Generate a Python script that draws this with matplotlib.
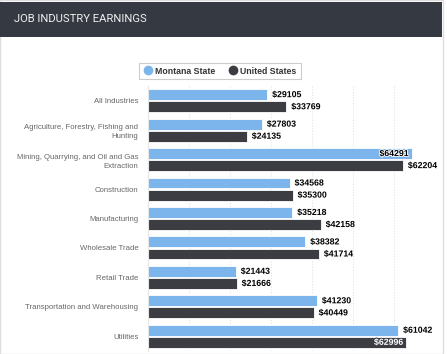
import matplotlib.pyplot as plt
import matplotlib.patheffects as pe
from matplotlib.lines import Line2D
from matplotlib.patches import Rectangle
import numpy as np

# Data
categories = ['All Industries', 'Agriculture, Forestry, Fishing and\nHunting',
              'Mining, Quarrying, and Oil and Gas\nExtraction', 'Construction',
              'Manufacturing', 'Wholesale Trade', 'Retail Trade',
              'Transportation and Warehousing', 'Utilities']
montana = [29105, 27803, 64291, 34568, 35218, 38382, 21443, 41230, 61042]
united_states = [33769, 24135, 62204, 35300, 42158, 41714, 21666, 40449, 62996]
series_names = ['Montana State', 'United States']
colors = ['#7cb5ec', '#3c3d43']

W, H = 447, 354
fig = plt.figure(figsize=(W / 100, H / 100), dpi=100)
plt.rcParams['font.family'] = ['Liberation Sans', 'DejaVu Sans']

# panel frame and dark header
fig.patches.append(Rectangle((0, 0), 443 / W, 1, transform=fig.transFigure,
                             facecolor='white', edgecolor='#dddddd', linewidth=1, zorder=-10))
fig.patches.append(Rectangle((0, 1 - 37 / H), 442 / W, 35 / H, transform=fig.transFigure,
                             facecolor='#353a42', edgecolor='none', zorder=-5))
fig.text(14 / W, 1 - 19 / H, 'JOB INDUSTRY EARNINGS', color='#f0f0f0', fontsize=8.1,
         family=['Roboto', 'DejaVu Sans'], va='center', ha='left')

ax = fig.add_axes([148 / W, 1 - 351 / H, (435 - 148) / W, (351 - 86) / H])
ax.set_facecolor('none')
ax.set_zorder(2)

y = np.arange(len(categories))
off = 0.205
h = 0.37
ax.barh(y - off, montana, h, color=colors[0], edgecolor='white', linewidth=0.6, zorder=2)
ax.barh(y + off, united_states, h, color=colors[1], edgecolor='white', linewidth=0.6, zorder=2)

for vals, dy, c in [(montana, -off, colors[0]), (united_states, off, colors[1])]:
    for i, v in enumerate(vals):
        txt = '$' + str(v)
        if v > 62500:
            tc = 'white' if c == colors[1] else 'black'
            oc = c if c == colors[1] else 'white'
            ax.annotate(txt, (v, i + dy), xytext=(-2, 0), textcoords='offset points',
                        ha='right', va='center', fontsize=6.3, fontweight='bold', color=tc,
                        path_effects=[pe.withStroke(linewidth=1.2, foreground=oc)], zorder=3)
        else:
            ax.annotate(txt, (v, i + dy), xytext=(3.5, 0), textcoords='offset points',
                        ha='left', va='center', fontsize=6.3, fontweight='bold', color='black',
                        path_effects=[pe.withStroke(linewidth=1.2, foreground='white')], zorder=3)

ax.set_xlim(0, 70000)
ax.set_ylim(len(categories) - 0.5, -0.5)
ax.set_xticks(np.arange(0, 70001, 10000))
ax.set_xticklabels([])
ax.tick_params(axis='x', length=0)
ax.set_yticks(y)
ax.set_yticklabels(categories, fontsize=5.6, color='#666666', linespacing=1.45)
ax.tick_params(axis='y', length=0, pad=7)
ax.grid(True, axis='x', color='#e3e3e3', linestyle=(0, (1, 1.5)), linewidth=0.8, zorder=0)
ax.set_axisbelow(True)
for s in ['top', 'right', 'bottom']:
    ax.spines[s].set_visible(False)
ax.spines['left'].set_color('#e6e6e6')

handles = [Line2D([], [], marker='o', linestyle='none', markersize=6,
                  markerfacecolor=c, markeredgecolor=c) for c in colors]
leg = fig.legend(handles, series_names, loc='center', bbox_to_anchor=(220 / W, 1 - 71 / H),
                 ncol=2, frameon=True, fancybox=False, edgecolor='#cccccc', framealpha=1,
                 handletextpad=0.3, columnspacing=1.6, borderpad=0.45, handlelength=1.0,
                 prop={'size': 6.3, 'weight': 'bold'})
for t in leg.get_texts():
    t.set_color('#333333')
leg.get_frame().set_linewidth(0.8)

plt.savefig('out.png', dpi=100)
